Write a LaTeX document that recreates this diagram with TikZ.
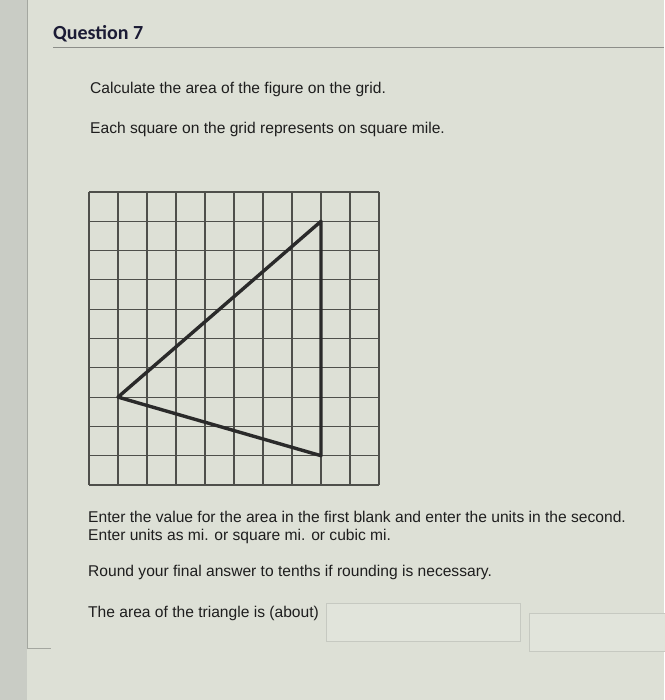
\documentclass[tikz,border=0pt]{standalone}
\usepackage{fontspec}
\setmainfont{Liberation Sans}
\newfontfamily\headfont{Carlito}
\definecolor{bgpaper}{HTML}{DDE0D6}
\definecolor{strip}{HTML}{C9CCC5}
\definecolor{stripline}{HTML}{A4A7A0}
\definecolor{gridcol}{HTML}{4E4F4B}
\definecolor{tricol}{HTML}{2A2A2A}
\definecolor{inkcol}{HTML}{1E1E1E}
\definecolor{boxcol}{HTML}{C6C9C1}
\definecolor{rulecol}{HTML}{8C8E89}
\tikzset{
  body/.style={anchor=base west, inner sep=0pt, text=inkcol, font=\fontsize{15.6}{19}\selectfont},
  head/.style={anchor=base west, inner sep=0pt, text=inkcol!90!blue, font=\headfont\bfseries\fontsize{20}{24}\selectfont},
  gridline/.style={draw=gridcol, line width=1.1pt},
  triline/.style={draw=tricol, line width=3.4pt, line join=round, line cap=round},
  answerbox/.style={draw=boxcol, line width=0.8pt, fill=bgpaper!88!white},
}
\begin{document}
\begin{tikzpicture}[x=1pt,y=-1pt]
\useasboundingbox (0,0) rectangle (664,700);
\fill[bgpaper] (0,0) rectangle (664,700);
\fill[strip] (0,0) rectangle (27,700);
\draw[stripline, line width=0.8pt] (27.5,0) -- (27.5,648) -- (51,648);

% header
\node[head] (q7) at (53,40) {Question 7};
\draw[rulecol, line width=1pt] (53,47.5) -- (664,47.5);

\node[body] (l1) at (90,94) {Calculate the area of the figure on the grid.};
\node[body] (l2) at (90,134) {Each square on the grid represents on square mile.};

% grid
\begin{scope}[shift={(89,192)}, xscale=29, yscale=29.3]
  \foreach \i in {0,...,10} {
    \draw[gridline] (\i,0) -- (\i,10);
    \draw[gridline] (0,\i) -- (10,\i);
  }
  \coordinate (A) at (8,1);
  \coordinate (B) at (1,7);
  \coordinate (C) at (8,9);
\end{scope}
\draw[triline] (A) -- (B) -- (C) -- cycle;

\node[body] (l3) at (88,522) {Enter the value for the area in the first blank and enter the units in the second.};
\node[body] (l4) at (88,540) {Enter units as mi. or square mi. or cubic mi.};
\node[body] (l5) at (88,576) {Round your final answer to tenths if rounding is necessary.};
\node[body] (l6) at (88,617) {The area of the triangle is (about)};

\draw[answerbox] (326,603) rectangle (520,641);
\draw[answerbox] (529,613) rectangle (668,651);
\end{tikzpicture}
\end{document}
